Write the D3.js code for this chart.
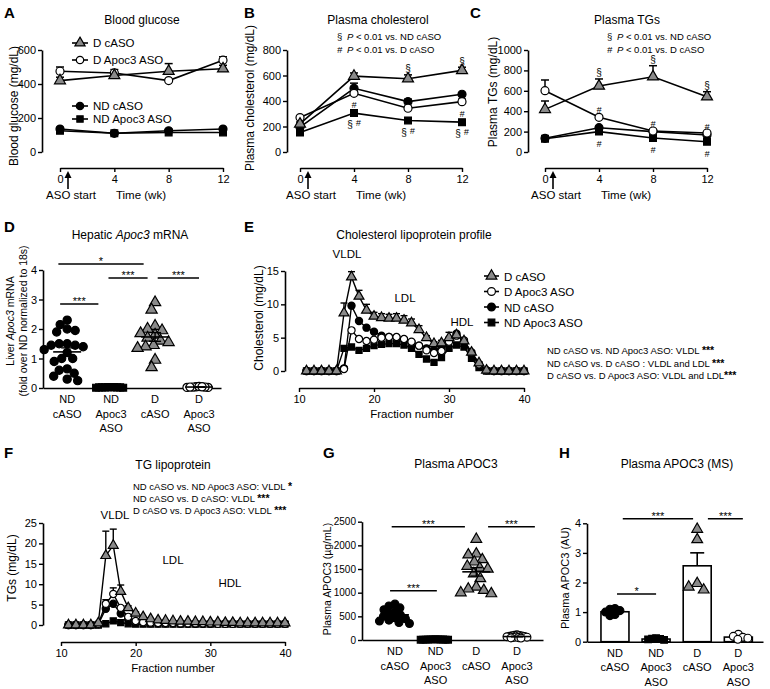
<!DOCTYPE html>
<html><head><meta charset="utf-8">
<script src="https://cdn.jsdelivr.net/npm/d3@7"></script>
<style>
body{margin:0;background:#fff;}
svg{font-family:"Liberation Sans",Arial,Helvetica,sans-serif;}
</style></head><body>
<svg id="fig" width="770" height="689"></svg>
<script>
// ---------------- DATA ----------------
const groups = ["D cASO", "D Apoc3 ASO", "ND cASO", "ND Apoc3 ASO"];
const weeks = [0, 4, 8, 12];

// A: blood glucose (mg/dL)
const glucoseTicks = [0, 200, 400, 600];
const glucoseDcASO = [420, 450, 475, 490];
const glucoseDcASOErr = [20, 15, 45, 20];
const glucoseDApoc3 = [475, 465, 420, 540];
const glucoseDApoc3Err = [25, 20, 8, 20];
const glucoseNDcASO = [135, 110, 125, 135];
const glucoseNDcASOErr = [5, 5, 5, 5];
const glucoseNDApoc3 = [125, 110, 115, 115];
const glucoseNDApoc3Err = [5, 5, 5, 5];

// B: plasma cholesterol (mg/dL)
const cholTicks = [0, 200, 400, 600, 800];
const cholDcASO = [220, 595, 575, 640];
const cholDcASOErr = [15, 25, 30, 25];
const cholDApoc3 = [270, 460, 343, 395];
const cholDApoc3Err = [10, 15, 15, 20];
const cholNDcASO = [195, 500, 395, 453];
const cholNDcASOErr = [10, 40, 20, 10];
const cholNDApoc3 = [152, 305, 247, 234];
const cholNDApoc3Err = [5, 10, 10, 8];
const cholMarks = [
  {g: 0, i: 2, t: "§", pos: "above"}, {g: 0, i: 3, t: "§", pos: "above"},
  {g: 1, i: 1, t: "#", pos: "below"}, {g: 1, i: 2, t: "#", pos: "below"}, {g: 1, i: 3, t: "#", pos: "below"},
  {g: 3, i: 1, t: "§#", pos: "below"}, {g: 3, i: 2, t: "§#", pos: "below"}, {g: 3, i: 3, t: "§#", pos: "below"}
];

// C: plasma TGs (mg/dL)
const tgTicks = [0, 200, 400, 600, 800, 1000];
const tgDcASO = [418, 647, 738, 542];
const tgDcASOErr = [82, 69, 108, 49];
const tgDApoc3 = [601, 340, 206, 186];
const tgDApoc3Err = [105, 15, 10, 10];
const tgNDcASO = [134, 238, 200, 167];
const tgNDcASOErr = [5, 10, 10, 10];
const tgNDApoc3 = [130, 200, 137, 101];
const tgNDApoc3Err = [5, 10, 10, 10];
const tgMarks = [
  {g: 0, i: 1, t: "§", pos: "above"}, {g: 0, i: 2, t: "§", pos: "above"}, {g: 0, i: 3, t: "§", pos: "above"},
  {g: 1, i: 1, t: "#", pos: "above"}, {g: 1, i: 2, t: "#", pos: "above"}, {g: 1, i: 3, t: "#", pos: "above"},
  {g: 3, i: 1, t: "#", pos: "below"}, {g: 3, i: 2, t: "#", pos: "below"}, {g: 3, i: 3, t: "#", pos: "below"}
];

// Categories for scatter / bar panels
const catGroups = ["ND cASO", "ND Apoc3 ASO", "D cASO", "D Apoc3 ASO"];
const catLabelLines = [["ND", "cASO"], ["ND", "Apoc3", "ASO"], ["D", "cASO"], ["D", "Apoc3", "ASO"]];

// D: hepatic Apoc3 mRNA
const mrnaTicks = [0, 1, 2, 3, 4];
const mrnaNDcASO = [2.3, 2.15, 2.0, 1.95, 1.9, 1.5, 1.5, 1.45, 1.45, 1.4, 1.3, 1.2, 1.0, 1.0, 0.9, 0.65, 0.6, 0.5, 0.4, 0.3, 0.25];
const mrnaNDApoc3 = [0.03, 0.02, 0.02, 0.01, 0.03, 0.02, 0.01, 0.02, 0.03, 0.02];
const mrnaDcASO = [2.9, 2.65, 2.1, 2.0, 1.95, 1.85, 1.8, 1.7, 1.6, 1.55, 1.45, 1.4, 1.35, 0.95, 0.7];
const mrnaDApoc3 = [0.04, 0.03, 0.02, 0.05, 0.03, 0.02, 0.04, 0.03];
const mrnaSig = [
  {a: -0.2, b: 1.74, y: 4.2, t: "*"}, {a: -0.16, b: 0.71, y: 2.85, t: "***"},
  {a: 0.94, b: 1.83, y: 3.73, t: "***"}, {a: 2.06, b: 3.0, y: 3.73, t: "***"}
];

// E & F: lipoprotein profiles by fraction
const fractions = [11,12,13,14,15,16,17,18,19,20,21,22,23,24,25,26,27,28,29,30,31,32,33,34,35,36,37,38,39,40];
const fracTicks = [10, 20, 30, 40];
const cholProfTicks = [0, 5, 10, 15];
const eDcASO =    [0,0,0,0,0, 8.7,14.1,11.2,9.1,8.2, 8.0,7.9,7.9,7.6,7.2, 6.2,5.0,4.1,4.2,5.0, 5.4,4.5,2.8,1.2,0.1, 0,0,0,0,0];
const eDcASOErr = [0,0,0,0,0, 1.5,0.8,0.9,0.9,0.6, 0.6,0.6,0.7,0.7,0.6, 0.6,0.3,0.3,0.4,0.8, 0.5,0.3,0.2,0.2,0, 0,0,0,0,0];
const eDApoc3 =   [0,0,0,0,0, 0.3,6.1,4.8,4.5,4.7, 5.0,5.1,5.1,4.8,4.4, 3.8,3.1,2.7,3.0,4.4, 5.3,4.6,2.8,1.0,0.1, 0,0,0,0,0];
const eNDcASO =   [0,0,0,0,0, 0.4,9.8,7.5,6.5,5.9, 5.3,5.1,5.0,4.7,4.3, 3.8,3.4,3.1,3.5,4.8, 5.6,4.4,2.5,0.9,0.1, 0,0,0,0,0];
const eNDApoc3 =  [0,0,0,0,0, 3.4,3.6,3.1,3.4,3.8, 4.0,4.1,4.1,3.9,3.4, 2.5,1.8,1.3,2.0,3.4, 3.9,3.6,1.9,0.5,0, 0,0,0,0,0];
const eStats = ["ND cASO vs. ND Apoc3 ASO: VLDL ", "ND cASO vs. D cASO : VLDL and LDL ", "D cASO vs. D Apoc3 ASO: VLDL and LDL"];
const eStars = ["***", "***", "***"];

const tgProfTicks = [0, 5, 10, 15, 20, 25];
const fDcASO =    [0,0,0,0,0.5, 17,19.5,8.2,4.2,2.9, 2.0,1.5,1.2,1.1,1.0, 0.9,0.9,0.8,0.8,0.7, 0.7,0.6,0.6,0.5,0.5, 0.5,0.5,0.5,0.5,0.5];
const fDcASOErr = [0,0,0,0,0, 6,4,1.6,0.5,0.3, 0,0,0,0,0, 0,0,0,0,0, 0,0,0,0,0, 0,0,0,0,0];
const fDApoc3 =   [0,0,0,0,0.3, 5.2,7.6,4.2,2.0,1.0, 0.7,0.6,0.5,0.5,0.5, 0.4,0.4,0.4,0.4,0.4, 0.3,0.3,0.3,0.3,0.3, 0.3,0.3,0.3,0.3,0.3];
const fDApoc3Err = [0,0,0,0,0, 1.0,1.5,0.5,0,0, 0,0,0,0,0, 0,0,0,0,0, 0,0,0,0,0, 0,0,0,0,0];
const fNDcASO =   [0,0,0,0,0.2, 4.0,5.2,2.8,1.5,0.8, 0.5,0.4,0.4,0.4,0.4, 0.3,0.3,0.3,0.3,0.3, 0.3,0.3,0.3,0.3,0.3, 0.3,0.3,0.3,0.3,0.3];
const fNDApoc3 =  [0,0,0,0,0, 0.3,1.0,0.6,0.3,0.2, 0.2,0.2,0.2,0.2,0.2, 0.2,0.2,0.2,0.2,0.2, 0.2,0.2,0.2,0.2,0.2, 0.2,0.2,0.2,0.2,0.2];
const fStats = ["ND cASO vs. ND Apoc3 ASO: VLDL ", "ND cASO vs. D cASO: VLDL ", "D cASO vs. D Apoc3 ASO: VLDL "];
const fStars = ["*", "***", "***"];

// G: plasma APOC3 (ug/mL)
const apocTicks = [0, 500, 1000, 1500, 2000, 2500];
const apocNDcASO = [760, 720, 680, 640, 600, 560, 530, 500, 470, 450, 420, 400, 370, 350];
const apocNDApoc3 = [12, 10, 8, 15, 5, 10, 12, 8, 6, 10, 14, 9];
const apocDcASO = [2130, 1820, 1800, 1700, 1650, 1560, 1520, 1500, 1400, 1300, 1120, 1080, 1050, 1000, 980];
const apocDApoc3 = [110, 100, 95, 90, 85, 80, 75, 70, 65, 60, 55, 50, 45, 40];
const apocSig = [
  {a: -0.08, b: 1.72, y: 2394, t: "***"}, {a: 2.29, b: 3.44, y: 2394, t: "***"}, {a: -0.12, b: 1.03, y: 1042, t: "***"}
];

// H: plasma APOC3 by MS (AU)
const msTicks = [0, 1, 2, 3, 4];
const msNDcASO = [1.12, 1.1, 1.05, 1.0, 0.92, 0.88];
const msNDApoc3 = [0.12, 0.1, 0.09, 0.08, 0.06];
const msDcASO = [3.8, 3.45, 1.97, 1.85, 1.75];
const msDApoc3 = [0.25, 0.18, 0.15, 0.12, 0.08];
const msSig = [
  {a: 0.19, b: 1.9, y: 4.15, t: "***"}, {a: 2.26, b: 3.11, y: 4.15, t: "***"}, {a: 0.05, b: 1.0, y: 1.61, t: "*"}
];

// ---------------- DRAWING ----------------
const svg = d3.select("#fig");
const FONT = "'Liberation Sans', Arial, Helvetica, sans-serif";
const fmtInt = d3.format("d");
const styleOf = {
  "D cASO": {shape: d3.symbolTriangle, fill: "#8a8a8a", size: 50},
  "D Apoc3 ASO": {shape: d3.symbolCircle, fill: "#fff", size: 48},
  "ND cASO": {shape: d3.symbolCircle, fill: "#000", size: 48},
  "ND Apoc3 ASO": {shape: d3.symbolSquare, fill: "#000", size: 44}
};
function marker(g, group, x, y, scale = 1) {
  const s = styleOf[group];
  g.append("path").attr("d", d3.symbol(s.shape, s.size * scale)())
    .attr("transform", `translate(${x},${y})`)
    .attr("fill", s.fill).attr("stroke", "#000").attr("stroke-width", 1.2);
}
function styleAxis(sel, fs = 11) {
  sel.attr("font-family", FONT).attr("font-size", fs);
  sel.selectAll("path.domain").attr("stroke-width", 1.6);
  sel.selectAll(".tick line").attr("stroke-width", 1.4);
  sel.selectAll(".tick text").attr("fill", "#000");
}
function txt(x, y, s, o = {}) {
  const t = svg.append("text").attr("x", x).attr("y", y).attr("font-size", o.fs || 11)
    .attr("text-anchor", o.anchor || "start").attr("font-weight", o.bold ? "bold" : null)
    .attr("fill", "#000");
  t.text(s);
  return t;
}
function panelLetter(x, y, s) { txt(x, y, s, {fs: 15, bold: true}); }
function title(x, y, parts) {
  const t = svg.append("text").attr("x", x).attr("y", y).attr("text-anchor", "middle").attr("font-size", 12);
  parts.forEach(p => t.append("tspan").attr("font-style", p.i ? "italic" : null).text(p.s));
}
function yLabel(x, y, parts, fs = 12) {
  const t = svg.append("text").attr("x", x).attr("y", y).attr("text-anchor", "middle").attr("font-size", fs)
    .attr("transform", `rotate(-90,${x},${y})`);
  parts.forEach(p => t.append("tspan").attr("font-style", p.i ? "italic" : null).text(p.s));
}

// ---- line panels (A, B, C) ----
function linePanel(cfg) {
  const g = svg.append("g");
  const x = d3.scaleLinear().domain([0, 12]).range(cfg.xr);
  const y = d3.scaleLinear().domain([0, cfg.ticks[cfg.ticks.length - 1]]).range(cfg.yr);
  styleAxis(g.append("g").attr("transform", `translate(${cfg.yAxisX},0)`)
    .call(d3.axisLeft(y).tickValues(cfg.ticks).tickFormat(fmtInt).tickSize(4).tickSizeOuter(0).tickPadding(2)));
  styleAxis(g.append("g").attr("transform", `translate(0,${cfg.xAxisY})`)
    .call(d3.axisBottom(x).tickValues(weeks).tickFormat(fmtInt).tickSize(4).tickSizeOuter(0).tickPadding(3)));
  const line = d3.line().x((d, i) => x(weeks[i])).y(d => y(d));
  cfg.series.forEach(s => g.append("path").datum(s.v).attr("d", line)
    .attr("fill", "none").attr("stroke", "#000").attr("stroke-width", 1.6));
  cfg.series.forEach(s => s.v.forEach((v, i) => {
    const e = s.e[i]; if (!e) return;
    const xx = x(weeks[i]);
    g.append("line").attr("x1", xx).attr("x2", xx).attr("y1", y(v)).attr("y2", y(v + e)).attr("stroke", "#000").attr("stroke-width", 1.5);
    g.append("line").attr("x1", xx - 4).attr("x2", xx + 4).attr("y1", y(v + e)).attr("y2", y(v + e)).attr("stroke", "#000").attr("stroke-width", 1.5);
  }));
  cfg.drawOrder.forEach(k => {
    const s = cfg.series[k];
    s.v.forEach((v, i) => marker(g, s.group, x(weeks[i]), y(v), 1.05));
  });
  (cfg.marks || []).forEach(m => {
    const s = cfg.series[m.g];
    const v = s.v[m.i];
    const xx = x(weeks[m.i]);
    let yy;
    if (m.pos === "above") yy = y(v + (s.e[m.i] || 0)) - 2.5;
    else yy = y(v) + 15;
    const t = g.append("text").attr("x", xx).attr("y", yy).attr("text-anchor", "middle").attr("font-size", 10);
    if (m.t === "§#") {
      t.append("tspan").text("§");
      t.append("tspan").attr("dx", 3).attr("dy", -2).attr("font-style", "italic").attr("font-size", 9).text("#");
    } else if (m.t === "#") {
      t.attr("font-style", "italic").attr("font-size", 9).text("#");
    } else t.text(m.t);
  });
  // ASO start arrow & labels
  const x0 = x(0);
  g.append("line").attr("x1", x0 + 8).attr("x2", x0 + 8).attr("y1", 189).attr("y2", 177).attr("stroke", "#000").attr("stroke-width", 1.6);
  g.append("path").attr("d", `M${x0 + 8},171L${x0 + 4.5},178L${x0 + 11.5},178Z`).attr("fill", "#000");
  g.append("text").attr("x", x0 + 11).attr("y", 199).attr("text-anchor", "middle").attr("font-size", 11.5).text("ASO start");
  g.append("text").attr("x", x0 + 81).attr("y", 199).attr("text-anchor", "middle").attr("font-size", 11.5).text("Time (wk)");
  return {x, y, g};
}

// A
linePanel({
  xr: [60, 223], yr: [152, 50], yAxisX: 42, xAxisY: 168, ticks: glucoseTicks,
  series: [
    {group: "D cASO", v: glucoseDcASO, e: glucoseDcASOErr},
    {group: "D Apoc3 ASO", v: glucoseDApoc3, e: glucoseDApoc3Err},
    {group: "ND cASO", v: glucoseNDcASO, e: glucoseNDcASOErr},
    {group: "ND Apoc3 ASO", v: glucoseNDApoc3, e: glucoseNDApoc3Err}
  ],
  drawOrder: [3, 2, 1, 0]
});
// A legend
[[groups[0], 43], [groups[1], 60], [groups[2], 106], [groups[3], 119]].forEach(([grp, yy]) => {
  svg.append("line").attr("x1", 72).attr("x2", 88).attr("y1", yy).attr("y2", yy).attr("stroke", "#000").attr("stroke-width", 1.6);
  marker(svg, grp, 80, yy, 0.9);
  txt(93, yy + 4, grp, {fs: 11.5});
});
panelLetter(4, 18, "A");
title(142, 24, [{s: "Blood glucose"}]);
yLabel(18, 106, [{s: "Blood glucose (mg/dL)"}]);

// B
linePanel({
  xr: [300, 462], yr: [152, 50], yAxisX: 287, xAxisY: 168, ticks: cholTicks,
  series: [
    {group: "D cASO", v: cholDcASO, e: cholDcASOErr},
    {group: "D Apoc3 ASO", v: cholDApoc3, e: cholDApoc3Err},
    {group: "ND cASO", v: cholNDcASO, e: cholNDcASOErr},
    {group: "ND Apoc3 ASO", v: cholNDApoc3, e: cholNDApoc3Err}
  ],
  drawOrder: [3, 2, 1, 0], marks: cholMarks
});
panelLetter(244, 18, "B");
title(378, 24, [{s: "Plasma cholesterol"}]);
yLabel(254, 98, [{s: "Plasma cholesterol (mg/dL)"}]);
function pLegend(x, y1, y2) {
  const a = svg.append("text").attr("x", x).attr("y", y1).attr("font-size", 9.5);
  a.append("tspan").text("§ ");
  a.append("tspan").attr("dx", 2).attr("font-style", "italic").text("P");
  a.append("tspan").text(" < 0.01 vs. ND cASO");
  const b = svg.append("text").attr("x", x).attr("y", y2).attr("font-size", 9.5);
  b.append("tspan").attr("font-style", "italic").text("# ");
  b.append("tspan").attr("dx", 2).attr("font-style", "italic").text("P");
  b.append("tspan").text(" < 0.01 vs. D cASO");
}
pLegend(337, 40, 53);

// C
linePanel({
  xr: [545, 707], yr: [152, 50], yAxisX: 528, xAxisY: 168, ticks: tgTicks,
  series: [
    {group: "D cASO", v: tgDcASO, e: tgDcASOErr},
    {group: "D Apoc3 ASO", v: tgDApoc3, e: tgDApoc3Err},
    {group: "ND cASO", v: tgNDcASO, e: tgNDcASOErr},
    {group: "ND Apoc3 ASO", v: tgNDApoc3, e: tgNDApoc3Err}
  ],
  drawOrder: [3, 2, 1, 0], marks: tgMarks
});
panelLetter(470, 18, "C");
title(627, 24, [{s: "Plasma TGs"}]);
yLabel(497, 92, [{s: "Plasma TGs (mg/dL)"}]);
pLegend(607, 40, 53);

// ---- scatter / bar panels ----
function swarmX(vals, y, cx, minDist) {
  const pts = vals.map((v, i) => ({i, y: y(v)})).sort((a, b) => a.y - b.y);
  const placed = [], xs = new Array(vals.length);
  pts.forEach(p => {
    let best = cx;
    for (let k = 0; k < 400; k++) {
      const dx = (k % 2 === 1 ? -1 : 1) * Math.ceil(k / 2) * 0.5;
      const xx = cx + dx;
      if (placed.every(q => Math.hypot(q.x - xx, q.y - p.y) >= minDist)) { best = xx; break; }
    }
    placed.push({x: best, y: p.y});
    xs[p.i] = best;
  });
  return xs;
}
function catPanel(cfg) {
  const g = svg.append("g");
  const xs = d3.scaleLinear().domain(cfg.xd).range(cfg.xr);
  const y = d3.scaleLinear().domain([0, cfg.ticks[cfg.ticks.length - 1]]).range(cfg.yr);
  styleAxis(g.append("g").attr("transform", `translate(${cfg.xr[0]},0)`)
    .call(d3.axisLeft(y).tickValues(cfg.ticks).tickFormat(fmtInt).tickSize(4).tickSizeOuter(0).tickPadding(2)), cfg.tickFs || 11);
  styleAxis(g.append("g").attr("transform", `translate(0,${cfg.yr[0]})`)
    .call(d3.axisBottom(xs).tickValues([]).tickSizeOuter(0)));
  cfg.data.forEach((vals, i) => {
    const cx = xs(i);
    const mean = d3.mean(vals), sem = d3.deviation(vals) / Math.sqrt(vals.length);
    if (cfg.bars) {
      g.append("rect").attr("x", cx - 14).attr("width", 28).attr("y", y(mean)).attr("height", y(0) - y(mean))
        .attr("fill", "#fff").attr("stroke", "#000").attr("stroke-width", 1.6);
      g.append("line").attr("x1", cx).attr("x2", cx).attr("y1", y(mean)).attr("y2", y(mean + sem)).attr("stroke", "#000").attr("stroke-width", 1.6);
      g.append("line").attr("x1", cx - 7).attr("x2", cx + 7).attr("y1", y(mean + sem)).attr("y2", y(mean + sem)).attr("stroke", "#000").attr("stroke-width", 1.6);
    }
    const px = swarmX(vals, y, cx, cfg.spacing[i]);
    vals.forEach((v, j) => marker(g, catGroups[i], px[j], y(v), cfg.mscale));
    if (!cfg.bars) {
      g.append("line").attr("x1", cx - 14).attr("x2", cx + 14).attr("y1", y(mean)).attr("y2", y(mean)).attr("stroke", "#000").attr("stroke-width", 1.6);
      [mean - sem, mean + sem].forEach(v => {
        g.append("line").attr("x1", cx).attr("x2", cx).attr("y1", y(mean)).attr("y2", y(v)).attr("stroke", "#000").attr("stroke-width", 1.4);
        g.append("line").attr("x1", cx - 6).attr("x2", cx + 6).attr("y1", y(v)).attr("y2", y(v)).attr("stroke", "#000").attr("stroke-width", 1.4);
      });
    }
    const t = g.append("text").attr("x", cx).attr("y", cfg.yr[0] + 15).attr("text-anchor", "middle").attr("font-size", 11);
    catLabelLines[i].forEach((l, j) => t.append("tspan").attr("x", cx).attr("dy", j ? 14.5 : 0).text(l));
  });
  cfg.sig.forEach(b => {
    g.append("line").attr("x1", xs(b.a)).attr("x2", xs(b.b)).attr("y1", y(b.y)).attr("y2", y(b.y)).attr("stroke", "#000").attr("stroke-width", 1.5);
    g.append("text").attr("x", (xs(b.a) + xs(b.b)) / 2).attr("y", y(b.y) + 1).attr("text-anchor", "middle").attr("font-size", 11).text(b.t);
  });
}

// D
catPanel({
  xd: [-0.55, 3.5], xr: [43, 221], yr: [388, 270], ticks: mrnaTicks,
  data: [mrnaNDcASO, mrnaNDApoc3, mrnaDcASO, mrnaDApoc3], spacing: [8, 3, 8, 3], mscale: 1.1, sig: mrnaSig
});
panelLetter(4, 232, "D");
title(130, 239, [{s: "Hepatic "}, {s: "Apoc3", i: true}, {s: " mRNA"}]);
yLabel(14, 321, [{s: "Liver "}, {s: "Apoc3", i: true}, {s: " mRNA"}], 10.5);
yLabel(27, 321, [{s: "(fold over ND normalized to 18s)"}], 10.5);

// G
catPanel({
  xd: [-0.81, 3.64], xr: [362, 543], yr: [640, 521.7], ticks: apocTicks, tickFs: 10,
  data: [apocNDcASO, apocNDApoc3, apocDcASO, apocDApoc3], spacing: [6, 2.2, 8, 2.2], mscale: 1.0, sig: apocSig
});
panelLetter(323, 458, "G");
title(456, 468, [{s: "Plasma APOC3"}]);
yLabel(331, 579, [{s: "Plasma APOC3 (µg/mL)"}], 10.5);

// H
catPanel({
  xd: [-0.68, 3.6], xr: [587, 763], yr: [641.7, 523.3], ticks: msTicks,
  data: [msNDcASO, msNDApoc3, msDcASO, msDApoc3], spacing: [5, 4, 9, 5], mscale: 1.0, bars: true, sig: msSig
});
panelLetter(559, 458, "H");
title(677, 468, [{s: "Plasma APOC3 (MS)"}]);
yLabel(569, 578, [{s: "Plasma APOC3 (AU)"}], 11);

// ---- profile panels (E, F) ----
function profilePanel(cfg) {
  const g = svg.append("g");
  const x = d3.scaleLinear().domain([10, 40]).range(cfg.xr);
  const y = d3.scaleLinear().domain([0, cfg.ticks[cfg.ticks.length - 1]]).range(cfg.yr);
  styleAxis(g.append("g").attr("transform", `translate(${cfg.yAxisX},0)`)
    .call(d3.axisLeft(y).tickValues(cfg.ticks).tickFormat(fmtInt).tickSize(4).tickSizeOuter(0).tickPadding(2)));
  styleAxis(g.append("g").attr("transform", `translate(0,${cfg.xAxisY})`)
    .call(d3.axisBottom(x).tickValues(fracTicks).tickFormat(fmtInt).tickSize(4).tickSizeOuter(0).tickPadding(3)));
  const line = d3.line().x((d, i) => x(fractions[i])).y(d => y(d));
  cfg.series.forEach(s => g.append("path").datum(s.v).attr("d", line)
    .attr("fill", "none").attr("stroke", "#000").attr("stroke-width", 1.4));
  cfg.series.forEach(s => { if (!s.e) return; s.v.forEach((v, i) => {
    const e = s.e[i]; if (!e) return;
    const xx = x(fractions[i]);
    g.append("line").attr("x1", xx).attr("x2", xx).attr("y1", y(v)).attr("y2", y(v + e)).attr("stroke", "#000").attr("stroke-width", 1.4);
    g.append("line").attr("x1", xx - 3.5).attr("x2", xx + 3.5).attr("y1", y(v + e)).attr("y2", y(v + e)).attr("stroke", "#000").attr("stroke-width", 1.4);
  }); });
  cfg.drawOrder.forEach(k => {
    const s = cfg.series[k];
    s.v.forEach((v, i) => marker(g, s.group, x(fractions[i]), y(v), 0.85));
  });
  g.append("text").attr("x", cfg.xLabelX).attr("y", cfg.xAxisY + 30).attr("text-anchor", "middle").attr("font-size", 11.5).text("Fraction number");
}

// E
profilePanel({
  xr: [299, 524], yr: [371, 271], yAxisX: 285, xAxisY: 388, ticks: cholProfTicks, xLabelX: 412,
  series: [
    {group: "D cASO", v: eDcASO, e: eDcASOErr},
    {group: "D Apoc3 ASO", v: eDApoc3},
    {group: "ND cASO", v: eNDcASO},
    {group: "ND Apoc3 ASO", v: eNDApoc3}
  ],
  drawOrder: [3, 2, 1, 0]
});
panelLetter(244, 232, "E");
title(414, 239, [{s: "Cholesterol lipoprotein profile"}]);
yLabel(263, 318, [{s: "Cholesterol (mg/dL)"}], 12);
txt(347, 258, "VLDL", {fs: 11.5, anchor: "middle"});
txt(405, 302, "LDL", {fs: 11.5, anchor: "middle"});
txt(462, 326, "HDL", {fs: 11.5, anchor: "middle"});
groups.forEach((grp, i) => {
  const yy = 276 + i * 15.5;
  svg.append("line").attr("x1", 484).attr("x2", 499).attr("y1", yy).attr("y2", yy).attr("stroke", "#000").attr("stroke-width", 1.6);
  marker(svg, grp, 491.5, yy, 1.0);
  txt(504, yy + 4.5, grp, {fs: 11.5});
});
eStats.forEach((s, i) => {
  const t = svg.append("text").attr("x", 547).attr("y", 354 + i * 12.5).attr("font-size", 9.5);
  t.append("tspan").text(s);
  t.append("tspan").attr("font-weight", "bold").attr("font-size", 10.5).text(eStars[i]);
});

// F
profilePanel({
  xr: [61, 285], yr: [625, 523], yAxisX: 43, xAxisY: 642, ticks: tgProfTicks, xLabelX: 173,
  series: [
    {group: "D cASO", v: fDcASO, e: fDcASOErr},
    {group: "D Apoc3 ASO", v: fDApoc3, e: fDApoc3Err},
    {group: "ND cASO", v: fNDcASO},
    {group: "ND Apoc3 ASO", v: fNDApoc3}
  ],
  drawOrder: [3, 2, 1, 0]
});
panelLetter(4, 458, "F");
title(173, 469, [{s: "TG lipoprotein"}]);
yLabel(16, 568, [{s: "TGs (mg/dL)"}], 12);
txt(115, 519, "VLDL", {fs: 11.5, anchor: "middle"});
txt(173, 564, "LDL", {fs: 11.5, anchor: "middle"});
txt(230, 587, "HDL", {fs: 11.5, anchor: "middle"});
fStats.forEach((s, i) => {
  const t = svg.append("text").attr("x", 133).attr("y", 490 + i * 11.8).attr("font-size", 9.5);
  t.append("tspan").text(s);
  t.append("tspan").attr("font-weight", "bold").attr("font-size", 10.5).text(fStars[i]);
});
</script>
</body></html>
